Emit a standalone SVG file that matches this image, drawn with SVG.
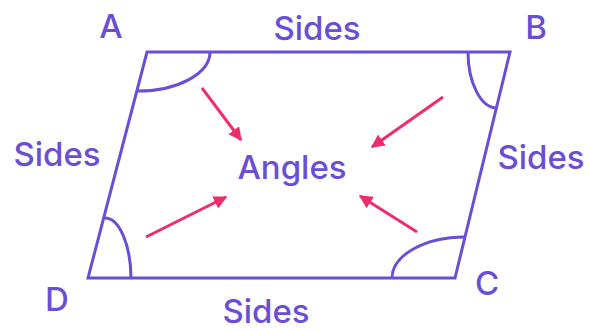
<svg xmlns="http://www.w3.org/2000/svg" width="590" height="330" viewBox="0 0 590 330">
<defs>
<style>
.lbl{font-family:Inter,Lato,"Liberation Sans",sans-serif;font-size:33px;font-weight:500;fill:#6A4FD6;text-anchor:middle}
.edge{fill:none;stroke:#6A4FD6;stroke-width:3;stroke-linejoin:miter}
.arc{fill:none;stroke:#6A4FD6;stroke-width:3}
.arr{fill:none;stroke:#EE2D6C;stroke-width:3;marker-end:url(#ah)}
</style>
<marker id="ah" viewBox="0 0 10 10" refX="9" refY="5" markerWidth="4.5" markerHeight="4.5" orient="auto" markerUnits="strokeWidth">
<path d="M0,0 L10,5 L0,10 Z" fill="#EE2D6C"/>
</marker>
</defs>
<rect width="590" height="330" fill="#ffffff"/>
<g id="shape">
<path class="edge" d="M147,52 L510,52 L455,278 L88,278 Z"/>
</g>
<g id="angleA"><path class="arc" d="M210,52 A72,39 0 0 1 138,91"/><text class="lbl" x="111" y="38">A</text></g>
<g id="angleB"><path class="arc" d="M468,52 A29,56 0 0 0 497,108"/><text class="lbl" x="536" y="39">B</text></g>
<g id="angleC"><path class="arc" d="M392,278 A73,41 0 0 1 465,237"/><text class="lbl" x="487" y="295">C</text></g>
<g id="angleD"><path class="arc" d="M105,218 A26,61 0 0 1 131,278"/><text class="lbl" x="57" y="311">D</text></g>
<g id="angles"><text class="lbl" x="292" y="179">Angles</text></g>
<g id="sides">
<text class="lbl" x="317" y="40">Sides</text>
<text class="lbl" x="57" y="166">Sides</text>
<text class="lbl" x="541" y="169">Sides</text>
<text class="lbl" x="266" y="323">Sides</text>
</g>
<g id="connectors">
<line class="arr" x1="202" y1="88" x2="241" y2="140"/>
<line class="arr" x1="443" y1="97" x2="372" y2="147"/>
<line class="arr" x1="146" y1="237" x2="226" y2="197"/>
<line class="arr" x1="417" y1="232" x2="360" y2="196"/>
</g>
</svg>
